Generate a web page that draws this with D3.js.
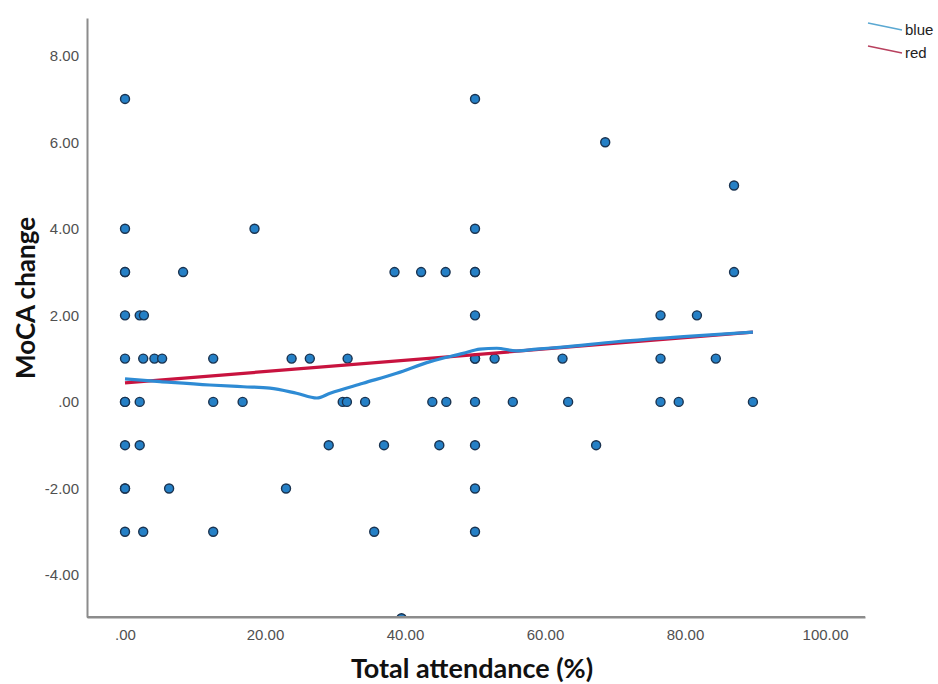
<!DOCTYPE html>
<html>
<head>
<meta charset="utf-8">
<script src="https://cdn.jsdelivr.net/npm/d3@7"></script>
<style>
  body { margin: 0; background: #fff; }
</style>
</head>
<body>
<div id="chart"></div>
<script>
// Scatter points (attendance %, MoCA change)
const attendance = [
    0, 0, 0, 0, 0, 0, 0, 0, 0, 0, 0, 0,
    2.1, 2.7, 2.6, 4.2, 5.3, 2.1, 2.1, 2.6, 6.3, 8.3,
    12.6, 12.6, 12.6, 16.8, 18.5, 23.0, 23.8, 26.4, 29.1,
    31.1, 31.7, 31.8, 34.3, 35.6, 37.0, 38.5, 39.5, 42.3, 43.9,
    44.9, 45.8, 45.9, 50, 50, 50, 50, 50, 50, 50, 50, 50, 50, 50,
    52.8, 55.4, 62.5, 63.3, 67.3, 68.6, 76.5, 76.5, 76.5, 79.1,
    81.7, 84.4, 87.0, 87.0, 89.7
];
const mocaChange = [
    7, 4, 3, 3, 2, 1, 0, 0, -1, -2, -2, -3,
    2, 2, 1, 1, 1, 0, -1, -3, -2, 3,
    1, 0, -3, 0, 4, -2, 1, 1, -1,
    0, 0, 1, 0, -3, -1, 3, -5, 3, 0,
    -1, 3, 0, 7, 4, 3, 3, 2, 1, 1, 0, -1, -2, -3,
    1, 0, 1, 0, -1, 6, 2, 1, 0, 0,
    2, 1, 5, 3, 0
];

// Smoothed (loess) curve
const loessX = [0, 5.0, 12.1, 16.9, 20.7, 24.5, 27.4, 29.3, 34.0, 38.8, 43.6, 48.3, 50.7, 53.1, 55.9, 58.8, 62.1, 70.2, 79.8, 89.7];
const loessY = [0.53, 0.47, 0.39, 0.35, 0.32, 0.20, 0.09, 0.20, 0.43, 0.66, 0.93, 1.12, 1.22, 1.24, 1.18, 1.22, 1.26, 1.39, 1.51, 1.61];

// Linear fit line
const fitX = [0, 89.7];
const fitY = [0.44, 1.61];

const xTicks = [0, 20, 40, 60, 80, 100];
const yTicks = [-4, -2, 0, 2, 4, 6, 8];

const legendItems = [
    { label: 'blue', color: '#5aa8d2' },
    { label: 'red', color: '#b8405e' }
];

const width = 938, height = 684;
const plot = { left: 87, right: 865, top: 18, bottom: 617 };

const svg = d3.select('#chart')
    .append('svg')
    .attr('width', width)
    .attr('height', height);

const x = d3.scaleLinear().domain([-5.43, 105.71]).range([plot.left, plot.right]);
const y = d3.scaleLinear().domain([-4.97, 8.87]).range([plot.bottom, plot.top]);

svg.append('clipPath')
    .attr('id', 'plot-clip')
    .append('rect')
    .attr('x', plot.left).attr('y', plot.top)
    .attr('width', plot.right - plot.left)
    .attr('height', plot.bottom - plot.top);

// SPSS style labels: ".00", "-2.00"
const fmt = d => d.toFixed(2).replace(/^0\./, '.');

// Y axis
const yAxisG = svg.append('g')
    .attr('transform', `translate(${plot.left},0)`)
    .call(d3.axisLeft(y).tickValues(yTicks).tickFormat(fmt).tickSize(0).tickPadding(8));

// X axis
const xAxisG = svg.append('g')
    .attr('transform', `translate(0,${plot.bottom})`)
    .call(d3.axisBottom(x).tickValues(xTicks).tickFormat(fmt).tickSize(0).tickPadding(12));

[yAxisG, xAxisG].forEach(ax => {
    ax.attr('font-size', null);
    ax.select('.domain').attr('stroke', '#8c8c8c').attr('stroke-width', 2);
    ax.selectAll('text')
        .attr('fill', '#505050')
        .style('font-size', '15px')
        .style('font-family', 'Liberation Sans, Arial, sans-serif');
});

const chart = svg.append('g').attr('clip-path', 'url(#plot-clip)');

// Points
chart.selectAll('.dot')
    .data(attendance.map((a, i) => ({ a, m: mocaChange[i] })))
    .join('circle')
    .attr('class', 'dot')
    .attr('cx', d => x(d.a))
    .attr('cy', d => y(d.m))
    .attr('r', 4.5)
    .attr('fill', '#2580c6')
    .attr('stroke', '#1a3350')
    .attr('stroke-width', 1.4);

const line = d3.line().x(d => x(d[0])).y(d => y(d[1]));

chart.append('path')
    .datum(fitX.map((v, i) => [v, fitY[i]]))
    .attr('d', line)
    .attr('fill', 'none')
    .attr('stroke', '#c8133f')
    .attr('stroke-width', 3.2);

chart.append('path')
    .datum(loessX.map((v, i) => [v, loessY[i]]))
    .attr('d', line.curve(d3.curveMonotoneX))
    .attr('fill', 'none')
    .attr('stroke', '#2e8bd4')
    .attr('stroke-width', 3.2)
    .attr('stroke-linejoin', 'round');

// redraw x axis line above the points
svg.append('line')
    .attr('x1', plot.left).attr('x2', plot.right)
    .attr('y1', plot.bottom).attr('y2', plot.bottom)
    .attr('stroke', '#8c8c8c').attr('stroke-width', 2);

// Axis titles
svg.append('text')
    .attr('x', 472)
    .attr('y', 678)
    .attr('text-anchor', 'middle')
    .attr('font-family', 'Lato, sans-serif')
    .attr('font-weight', 700)
    .attr('font-size', '27px')
    .attr('fill', '#111')
    .text('Total attendance (%)');

svg.append('text')
    .attr('transform', 'translate(35,298) rotate(-90)')
    .attr('text-anchor', 'middle')
    .attr('font-family', 'Lato, sans-serif')
    .attr('font-weight', 700)
    .attr('font-size', '26px')
    .attr('fill', '#111')
    .text('MoCA change');

// Legend
const legend = svg.append('g');
legendItems.forEach((d, i) => {
    const ly = 23 + i * 23;
    legend.append('line')
        .attr('x1', 868).attr('y1', ly)
        .attr('x2', 902).attr('y2', ly + 7)
        .attr('stroke', d.color)
        .attr('stroke-width', 1.5);
    legend.append('text')
        .attr('x', 905)
        .attr('y', ly + 12)
        .attr('font-family', 'Liberation Sans, Arial, sans-serif')
        .attr('font-size', '15px')
        .attr('fill', '#222')
        .text(d.label);
});
</script>
</body>
</html>
